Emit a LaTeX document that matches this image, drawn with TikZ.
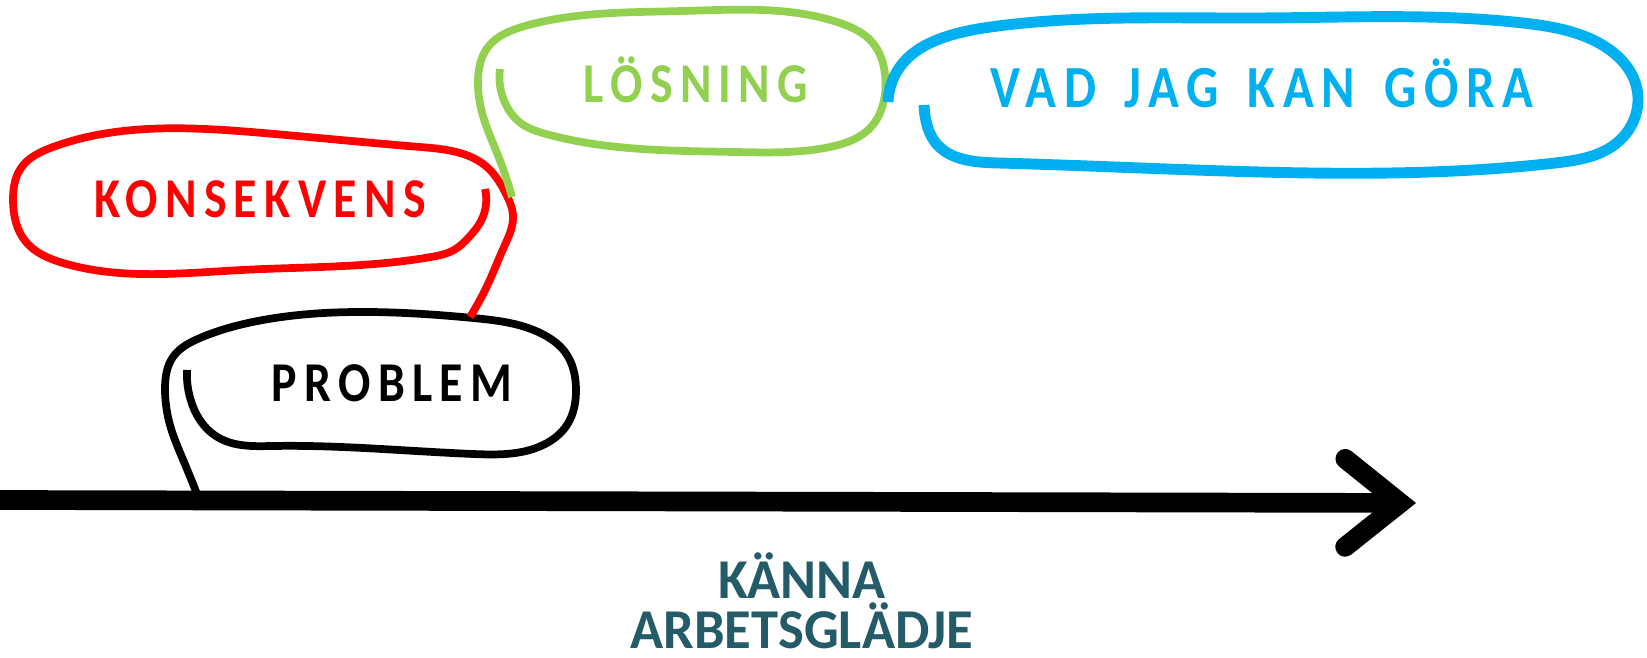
\documentclass[tikz,border=0pt]{standalone}
\usepackage{fontspec}
\usepackage{xcolor}
\usepackage{tikz}
\usetikzlibrary{hobby, arrows.meta}

\newfontfamily\bubblefont[FakeStretch=0.85, LetterSpace=13]{Carlito}
\newfontfamily\widebubblefont[FakeStretch=0.85, LetterSpace=13, WordSpace=1.5]{Carlito}
\newfontfamily\goalfont[FakeStretch=0.97]{Carlito}

\definecolor{konsekvensred}{HTML}{FF0000}
\definecolor{losninggreen}{HTML}{92D050}
\definecolor{vadjagblue}{HTML}{00B0F0}
\definecolor{kannateal}{HTML}{245B68}

\tikzset{
	bubble/.style = {line width=2.2pt, use Hobby shortcut},
	bubble label/.style = {font=\bubblefont\bfseries\fontsize{16}{19}\selectfont, anchor=base, inner sep=0pt},
	goal label/.style = {font=\goalfont\bfseries\fontsize{16}{14.5}\selectfont, anchor=base, inner sep=0pt, align=center, text=kannateal},
	time axis/.style = {line width=5.6pt, -{Straight Barb[length=5.5mm, width=8.8mm, line cap=round, line join=miter]}}
}

\begin{document}
\begin{tikzpicture}[x=0.01cm, y=-0.01cm]
			\useasboundingbox (0,0) rectangle (1647,658);

			\coordinate (axisstart) at (0,500);
			\coordinate (axistip) at (1416,503);
			\draw [time axis] (axisstart) to (axistip);

			\draw [bubble] (187,370) .. (192,404) .. (202,423) .. (221,439) .. (273,446) .. (473,454) .. (541,446) .. (567,425) .. (576,389) .. (565,352) .. (546,336) .. (473,318) .. (368,312) .. (263,320) .. (200,338) .. (173,357) .. (165,389) .. (170,425) .. (184,462) .. (197,494);
			\draw [bubble, konsekvensred] (485,189) .. (481,221) .. (470,236) .. (454,250) .. (431,257) .. (242,270) .. (63,263) .. (26,242) .. (13,200) .. (21,168) .. (53,147) .. (263,133) .. (420,147) .. (488,168) .. (506,194) .. (513,215) .. (504,247) .. (488,284) .. (470,317);
			\draw [bubble, losninggreen] (500,69) .. (506,105) .. (522,124) .. (546,134) .. (735,152) .. (830,147) .. (872,126) .. (884,100) .. (885,74) .. (872,42) .. (840,23) .. (683,11) .. (525,26) .. (488,47) .. (478,79) .. (483,116) .. (499,158) .. (512,197);
			\draw [bubble, vadjagblue, line width=3.1pt] (888,102) .. (903,63) .. (945,37) .. (998,26) .. (1260,18) .. (1523,23) .. (1597,42) .. (1637,89) .. (1618,142) .. (1555,163) .. (1260,172) .. (998,163) .. (935,142) .. (926,121) .. (924,105);

			\node [bubble label] (problem) at (392,402) {PROBLEM};
			\node [bubble label, text=konsekvensred] (konsekvens) at (260,218) {KONSEKVENS};
			\node [bubble label, text=losninggreen] (losning) at (696,103) {LÖSNING};
			\node [bubble label, text=vadjagblue, font=\widebubblefont\bfseries\fontsize{17}{20}\selectfont] (vadjag) at (1262,108) {VAD JAG KAN GÖRA};
			\node [goal label] (kanna) at (802,649) {KÄNNA\\ARBETSGLÄDJE};
		\end{tikzpicture}
\end{document}
